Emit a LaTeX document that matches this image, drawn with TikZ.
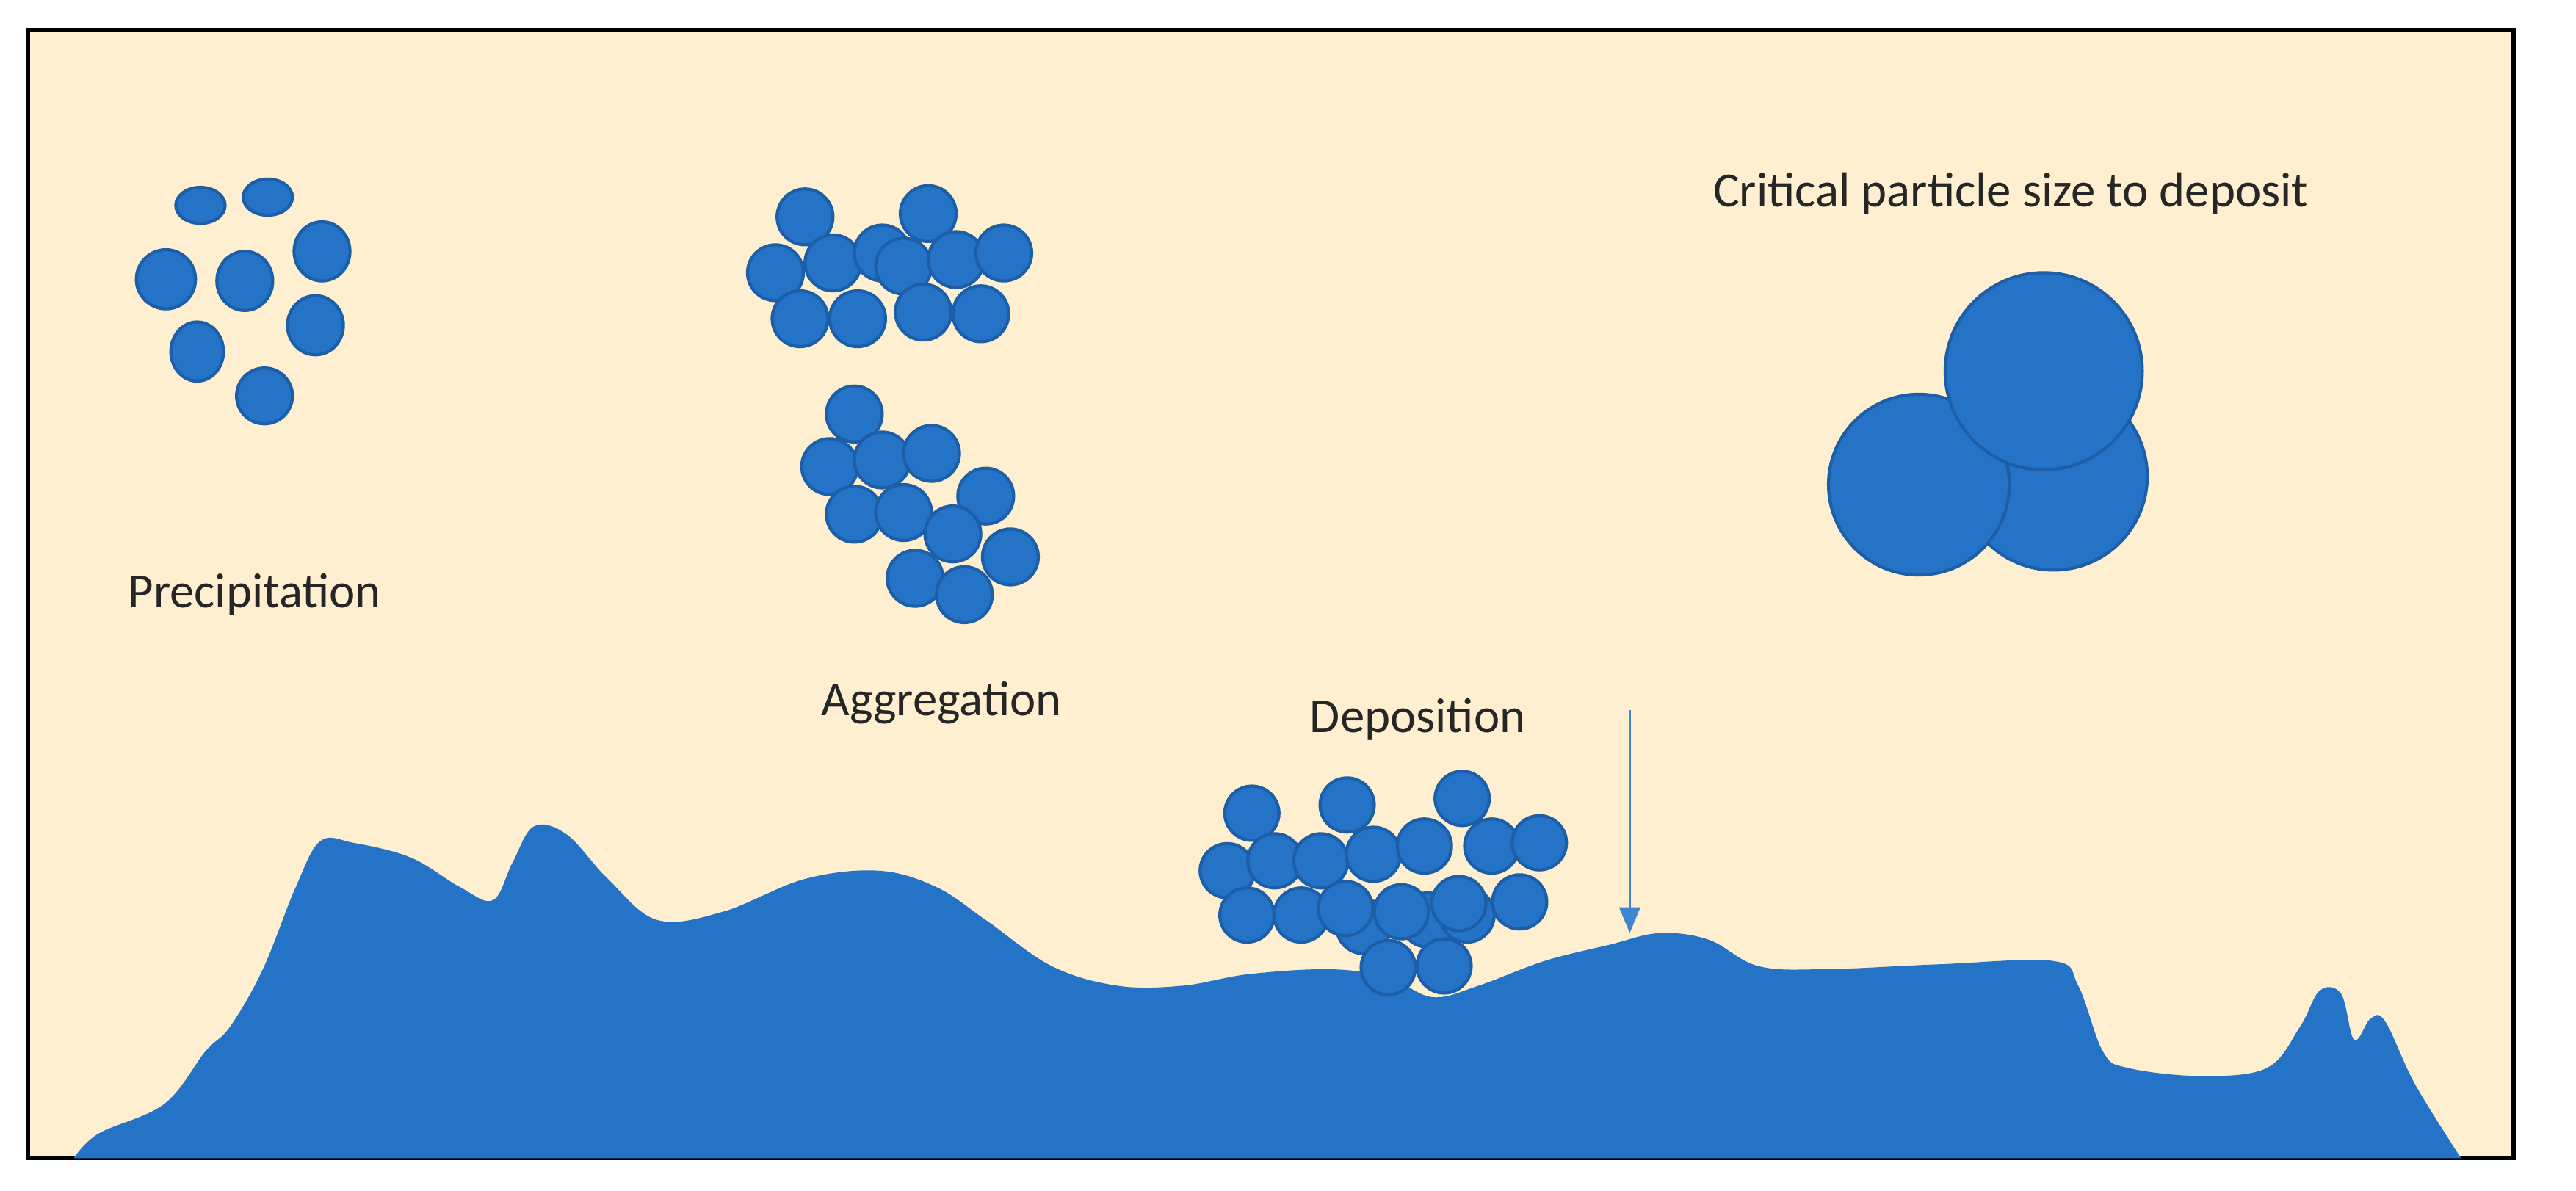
\documentclass[tikz,border=0pt]{standalone}
\usepackage{fontspec}
\setmainfont{Carlito}
\usetikzlibrary{arrows.meta}
\definecolor{cream}{HTML}{FDEFCF}
\definecolor{pblue}{HTML}{2473C6}
\definecolor{pedge}{HTML}{1C5EA8}
\definecolor{arr}{HTML}{3F86D0}
\begin{document}
\begin{tikzpicture}[x=0.022372cm,y=-0.022372cm,
  p/.style={fill=pblue,draw=pedge,line width=1.2pt},
  lab/.style={font=\fontsize{19}{22}\selectfont,text=black!85,inner sep=0}]
\useasboundingbox (0,0) rectangle (1568,724.6);
\fill[white] (0,0) rectangle (1568,724.6);
\draw[fill=cream,line width=1.5pt] (17,18) rectangle (1530,705);
% ground
\fill[pblue] plot[smooth,tension=0.6] coordinates {(45,705)(60,690)(100,672)(125,640)(140,625)(160,590)(180,540)(195,512)(215,513)(250,522)(280,540)(300,548)(312,525)(325,503)(345,508)(370,535)(400,560)(440,555)(490,535)(535,530)(570,540)(600,560)(640,588)(680,600)(720,600)(760,593)(810,590)(845,595)(872,607)(900,600)(940,585)(980,575)(1010,568)(1040,572)(1070,588)(1110,590)(1180,587)(1250,585)(1265,600)(1280,640)(1295,650)(1340,655)(1380,650)(1400,625)(1412,603)(1425,605)(1433,633)(1443,620)(1452,622)(1470,660)(1498,705)} -- cycle;
% precipitation
\foreach \x/\y/\rx/\ry in {122/125/15/11,163/120/15/11,196/153/17/18,101/170/18/18,149/171/17/18,192/198/17/18,120/214/16/18,161/241/17/17}
  \draw[p] (\x,\y) ellipse[x radius=\rx*0.022372cm,y radius=\ry*0.022372cm];
% aggregation
\foreach \x/\y in {490/132,565/130,472/166,507/160,537/154,550/162,582/158,611/154,487/194,522/194,562/190,597/191,
  520/252,505/284,537/280,567/276,520/313,550/312,600/302,580/325,615/339,557/352,587/362}
  \draw[p] (\x,\y) circle[radius=17*0.022372cm];
% deposition
\foreach \x/\y in {762/495,820/490,890/486,747/530,776/524,804/524,836/520,867/515,908/515,937/513,
  830/564,869/560,893/557,759/557,792/557,819/553,853/555,888/550,925/549,845/589,879/588}
  \draw[p] (\x,\y) circle[radius=16.5*0.022372cm];
% critical
\draw[p] (1250,290) circle[radius=57*0.022372cm];
\draw[p] (1168,295) circle[radius=55*0.022372cm];
\draw[p] (1244,226) circle[radius=60*0.022372cm];
% labels
\node[lab] (prec) at (155,362) {Precipitation};
\node[lab] (aggr) at (573,428) {Aggregation};
\node[lab] (depo) at (863,438) {Deposition};
\node[lab] (crit) at (1224,118) {Critical particle size to deposit};
\coordinate (a1) at (992,432);
\coordinate (a2) at (992,568);
\draw[arr,line width=1pt,-{Triangle[length=10pt,width=8pt]}] (a1) -- (a2);
\end{tikzpicture}
\end{document}
